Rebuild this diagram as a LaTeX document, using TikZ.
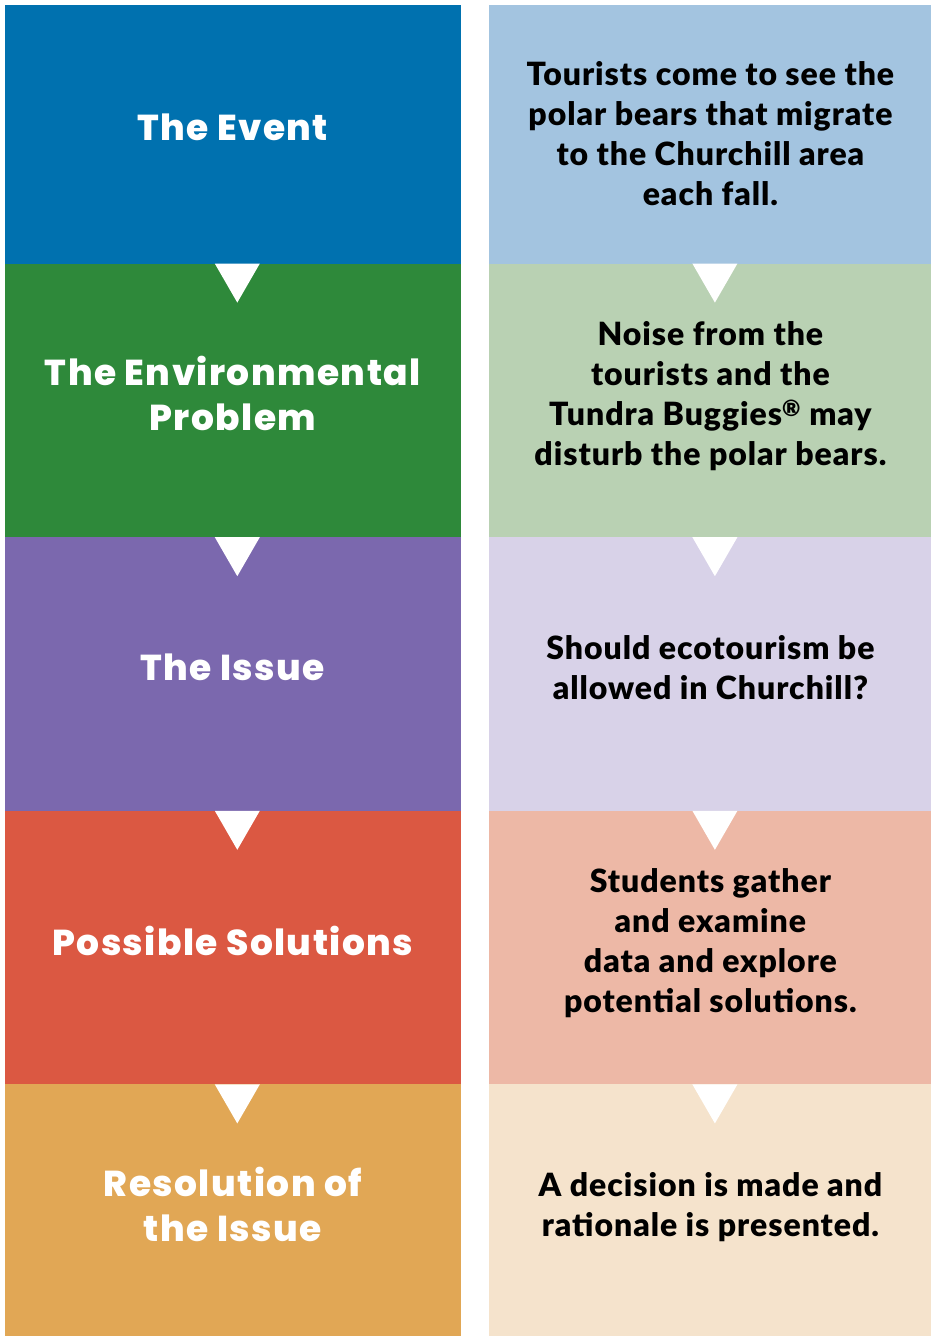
\documentclass[tikz,border=0pt]{standalone}
\usepackage{fontspec}
\usetikzlibrary{positioning}
\newfontfamily\headfont{Poppins ExtraBold}[LetterSpace=4]
\newfontfamily\bodyfont{Lato Black}[LetterSpace=3]

\definecolor{eventdark}{RGB}{0,113,175}
\definecolor{eventlight}{RGB}{163,196,224}
\definecolor{probdark}{RGB}{46,137,58}
\definecolor{problight}{RGB}{185,209,179}
\definecolor{issuedark}{RGB}{123,104,174}
\definecolor{issuelight}{RGB}{216,210,232}
\definecolor{soldark}{RGB}{219,88,66}
\definecolor{sollight}{RGB}{237,184,166}
\definecolor{resdark}{RGB}{225,167,85}
\definecolor{reslight}{RGB}{245,227,204}

\tikzset{
  stagebox/.style={rectangle, inner sep=0pt, minimum width=455pt, align=center,
    fill=#1, draw=#1, line width=0.6pt, text depth=14pt,
    text=white, font=\headfont\fontsize{36}{45}\selectfont},
  notebox/.style={rectangle, inner sep=0pt, minimum width=443pt, align=center,
    fill=#1, draw=#1, line width=0.6pt, text depth=14pt,
    text=black, font=\bodyfont\fontsize{32}{40}\selectfont},
}

% white pointer under a box
\newcommand{\notch}[1]{%
  \fill[white] ([xshift=-18pt]#1.south) -- ([xshift=27pt]#1.south)
    -- ([xshift=4.5pt,yshift=-39pt]#1.south) -- cycle;}

\begin{document}
\begin{tikzpicture}[x=1pt, y=-1pt]
  \useasboundingbox (0,0) rectangle (931,1336);

  % Left column: stages
  \node[stagebox=eventdark, minimum height=258pt, anchor=north west] (event) at (5,5) {The Event};
  \node[stagebox=probdark, minimum height=273pt, below=0pt of event] (problem) {The Environmental\\Problem};
  \node[stagebox=issuedark, minimum height=273pt, below=0pt of problem] (issue) {The Issue};
  \node[stagebox=soldark, minimum height=273pt, below=0pt of issue] (solutions) {Possible Solutions};
  \node[stagebox=resdark, minimum height=254pt, below=0pt of solutions] (resolution) {Resolution of\\the Issue};

  % Right column: notes
  \node[notebox=eventlight, minimum height=258pt, text depth=1pt, right=28pt of event] (eventnote)
    {Tourists come to see the\\polar bears that migrate\\to the Churchill area\\each fall.};
  \node[notebox=problight, minimum height=273pt, right=28pt of problem] (problemnote)
    {Noise from the\\tourists and the\\Tundra Buggies\textsuperscript{®} may\\disturb the polar bears.};
  \node[notebox=issuelight, minimum height=273pt, right=28pt of issue] (issuenote)
    {Should ecotourism be\\allowed in Churchill?};
  \node[notebox=sollight, minimum height=273pt, right=28pt of solutions] (solutionsnote)
    {Students gather\\and examine\\data and explore\\potential solutions.};
  \node[notebox=reslight, minimum height=254pt, right=28pt of resolution] (resolutionnote)
    {A decision is made and\\rationale is presented.};

  % Pointers
  \foreach \n in {event, problem, issue, solutions, eventnote, problemnote, issuenote, solutionsnote} {
    \notch{\n}
  }
\end{tikzpicture}
\end{document}
